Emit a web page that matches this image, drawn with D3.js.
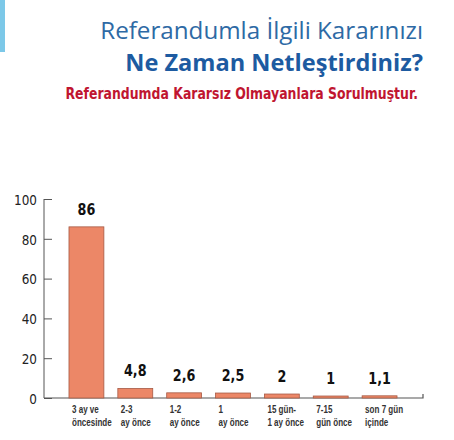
<!DOCTYPE html>
<html>
<head>
<meta charset="UTF-8">
<script src="https://d3js.org/d3.v7.min.js"></script>
<style>
  body { margin: 0; background: #fff; }
  svg text { font-family: "DejaVu Sans", sans-serif; }
</style>
</head>
<body>
<svg width="454" height="440"></svg>
<script>

// DATA
var categories = ["3 ay ve|öncesinde", "2-3|ay önce", "1-2|ay önce", "1|ay önce", "15 gün-|1 ay önce", "7-15|gün önce", "son 7 gün|içinde"];
var values = [86, 4.8, 2.6, 2.5, 2, 1, 1.1];
var valueLabels = ["86", "4,8", "2,6", "2,5", "2", "1", "1,1"];
var yTicks = [0, 20, 40, 60, 80, 100];

var svg = d3.select("svg");

// squeeze a text horizontally (no condensed fonts here)
function squeeze(g, x, y, sx) {
  g.attr("transform", "translate(" + x + "," + y + ") scale(" + sx + ",1)");
}
// fit a text to a given width, right aligned at x
function fitRight(str, x, y, width, family, weight, size, color) {
  var g = svg.append("g");
  var t = g.append("text").attr("text-anchor", "end")
    .style("font-family", family).style("font-weight", weight)
    .style("font-size", size + "px").attr("fill", color).text(str);
  squeeze(g, x, y, width / t.node().getComputedTextLength());
}

// side strip
svg.append("rect").attr("x", 0).attr("y", 0).attr("width", 5).attr("height", 52).attr("fill", "#7cc8e8");

// titles
fitRight("Referandumla İlgili Kararınızı", 423, 39, 323, "'Open Sans', sans-serif", 400, 23, "#2e6aa5");
fitRight("Ne Zaman Netleştirdiniz?", 423, 71, 298, "'Open Sans', sans-serif", 700, 24, "#1d5ba1");
fitRight("Referandumda Kararsız Olmayanlara Sorulmuştur.", 418, 99, 353, "'DejaVu Sans', sans-serif", 700, 15.5, "#c01530");

// SCALES
var x = d3.scaleBand().domain(categories).range([62, 404]).paddingInner(0.2857).paddingOuter(0.1429);
var y = d3.scaleLinear().domain([0, 100]).range([398, 199]);

// y axis
var yAxis = svg.append("g").attr("transform", "translate(44,0)")
  .call(d3.axisRight(y).tickValues(yTicks).tickSize(8).tickFormat(d3.format("d")));
yAxis.select(".domain").attr("stroke", "#555").attr("d", "M0," + y(100) + "V" + y(0));
yAxis.selectAll(".tick line").attr("stroke", "#555");
yAxis.selectAll(".tick text").remove();
yAxis.selectAll(".tick").each(function (d) {
  var g = d3.select(this).append("g");
  g.append("text").attr("text-anchor", "end").attr("dy", "0.36em")
    .style("font-size", "14.5px").attr("fill", "#222").text(d);
  squeeze(g, -7, 0, 0.83);
});

// x axis line
svg.append("path").attr("d", "M44," + y(0) + "H423V" + (y(0) - 4))
  .attr("fill", "none").attr("stroke", "#555").attr("stroke-width", 1.2);

// bars
svg.selectAll(".bar").data(values).enter().append("rect")
  .attr("class", "bar")
  .attr("x", function (d, i) { return x(categories[i]); })
  .attr("y", function (d) { return y(d); })
  .attr("width", x.bandwidth())
  .attr("height", function (d) { return y(0) - y(d); })
  .attr("fill", "#ec8767").attr("stroke", "#a65a45").attr("stroke-width", 0.8);

// value labels
values.forEach(function (d, i) {
  var g = svg.append("g");
  g.append("text").attr("text-anchor", "middle")
    .style("font-weight", 700).style("font-size", "15px").attr("fill", "#111")
    .text(valueLabels[i]);
  squeeze(g, x(categories[i]) + x.bandwidth() / 2, y(d) - 12, 0.85);
});

// category labels
categories.forEach(function (c, i) {
  var g = svg.append("g");
  var t = g.append("text")
    .style("font-family", "'Liberation Sans', sans-serif")
    .style("font-size", "11.5px").style("font-weight", 700).attr("fill", "#333");
  c.split("|").forEach(function (line, j) {
    t.append("tspan").attr("x", 0).attr("y", j * 13).text(line);
  });
  squeeze(g, x(c) + 3, 413, 0.7);
});

</script>
</body>
</html>
